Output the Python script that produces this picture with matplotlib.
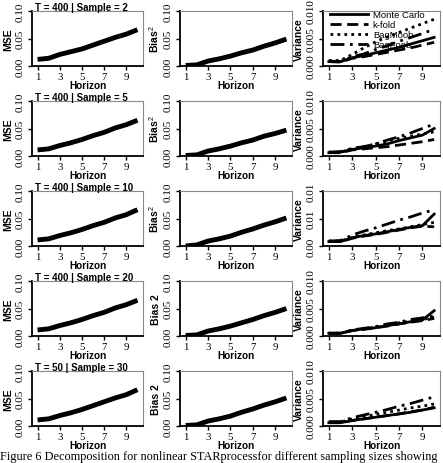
import matplotlib.pyplot as plt
import matplotlib as mpl
from matplotlib.ticker import FormatStrFormatter

# horizon values and panel titles
HORIZON = [1, 2, 3, 4, 5, 6, 7, 8, 9, 10]
TITLES = ["T = 400 | Sample = 2", "T = 400 | Sample = 5", "T = 400 | Sample = 10",
          "T = 400 | Sample = 20", "T = 50 | Sample = 30"]
BIAS_LABELS = ["Bias$^2$", "Bias$^2$", "Bias$^2$", "Bias 2", "Bias 2"]
METHODS = ["Monte Carlo", "k-fold", "BagMoob", "BagFoob"]

# MSE per row
MSE_S2 = [0.012, 0.014, 0.021, 0.026, 0.031, 0.038, 0.045, 0.052, 0.058, 0.066]
MSE_S5 = [0.011, 0.013, 0.019, 0.024, 0.030, 0.037, 0.043, 0.051, 0.057, 0.065]
MSE_S10 = [0.011, 0.013, 0.019, 0.024, 0.030, 0.037, 0.043, 0.051, 0.057, 0.066]
MSE_S20 = [0.011, 0.013, 0.019, 0.024, 0.030, 0.037, 0.043, 0.051, 0.057, 0.065]
MSE_S30 = [0.011, 0.013, 0.019, 0.024, 0.030, 0.037, 0.044, 0.051, 0.057, 0.066]

# squared bias per row
BIAS_S2 = [0.001, 0.002, 0.009, 0.013, 0.018, 0.024, 0.029, 0.036, 0.042, 0.049]
BIAS_S5 = [0.001, 0.002, 0.009, 0.013, 0.018, 0.024, 0.029, 0.036, 0.041, 0.047]
BIAS_S10 = [0.000, 0.002, 0.009, 0.013, 0.018, 0.025, 0.031, 0.038, 0.044, 0.051]
BIAS_S20 = [0.001, 0.002, 0.009, 0.013, 0.018, 0.024, 0.030, 0.037, 0.043, 0.050]
BIAS_S30 = [0.001, 0.002, 0.009, 0.013, 0.018, 0.025, 0.031, 0.038, 0.044, 0.051]

# variance per row: Monte Carlo, k-fold, BagMoob, BagFoob
VAR_MC_S2 = [0.0008, 0.0008, 0.0015, 0.0019, 0.0024, 0.0029, 0.0034, 0.0040, 0.0046, 0.0052]
VAR_KF_S2 = [0.0008, 0.0007, 0.0014, 0.0017, 0.0021, 0.0025, 0.0029, 0.0033, 0.0038, 0.0043]
VAR_MO_S2 = [0.0010, 0.0010, 0.0021, 0.0033, 0.0044, 0.0053, 0.0061, 0.0069, 0.0077, 0.0085]
VAR_FO_S2 = [0.0009, 0.0008, 0.0017, 0.0022, 0.0030, 0.0037, 0.0045, 0.0052, 0.0059, 0.0067]

VAR_MC_S5 = [0.0006, 0.0007, 0.0012, 0.0015, 0.0018, 0.0022, 0.0028, 0.0033, 0.0038, 0.0050]
VAR_KF_S5 = [0.0006, 0.0006, 0.0011, 0.0013, 0.0015, 0.0017, 0.0020, 0.0023, 0.0026, 0.0030]
VAR_MO_S5 = [0.0007, 0.0007, 0.0013, 0.0017, 0.0022, 0.0027, 0.0032, 0.0036, 0.0040, 0.0044]
VAR_FO_S5 = [0.0007, 0.0008, 0.0014, 0.0017, 0.0022, 0.0029, 0.0035, 0.0042, 0.0050, 0.0058]

VAR_MC_S10 = [0.0008, 0.0008, 0.0015, 0.0019, 0.0022, 0.0026, 0.0030, 0.0034, 0.0037, 0.0058]
VAR_KF_S10 = [0.0008, 0.0008, 0.0014, 0.0018, 0.0021, 0.0025, 0.0029, 0.0033, 0.0036, 0.0035]
VAR_MO_S10 = [0.0009, 0.0009, 0.0016, 0.0020, 0.0024, 0.0028, 0.0031, 0.0035, 0.0039, 0.0043]
VAR_FO_S10 = [0.0009, 0.0010, 0.0020, 0.0027, 0.0033, 0.0040, 0.0047, 0.0053, 0.0060, 0.0066]

VAR_MC_S20 = [0.0005, 0.0005, 0.0010, 0.0013, 0.0015, 0.0019, 0.0022, 0.0026, 0.0029, 0.0046]
VAR_KF_S20 = [0.0005, 0.0005, 0.0010, 0.0012, 0.0015, 0.0018, 0.0022, 0.0025, 0.0028, 0.0032]
VAR_MO_S20 = [0.0005, 0.0005, 0.0010, 0.0013, 0.0016, 0.0020, 0.0024, 0.0027, 0.0030, 0.0034]
VAR_FO_S20 = [0.0005, 0.0005, 0.0011, 0.0014, 0.0017, 0.0022, 0.0025, 0.0030, 0.0033, 0.0036]

VAR_MC_S30 = [0.0006, 0.0006, 0.0010, 0.0013, 0.0016, 0.0019, 0.0022, 0.0025, 0.0029, 0.0033]
VAR_KF_S30 = [0.0006, 0.0006, 0.0010, 0.0013, 0.0016, 0.0019, 0.0022, 0.0026, 0.0029, 0.0034]
VAR_MO_S30 = [0.0007, 0.0007, 0.0013, 0.0017, 0.0021, 0.0025, 0.0029, 0.0033, 0.0036, 0.0040]
VAR_FO_S30 = [0.0008, 0.0008, 0.0015, 0.0020, 0.0025, 0.0030, 0.0036, 0.0041, 0.0047, 0.0053]

CAPTION = "Figure 6 Decomposition for nonlinear STARprocessfor different sampling sizes showing"

MSE_ROWS = [MSE_S2, MSE_S5, MSE_S10, MSE_S20, MSE_S30]
BIAS_ROWS = [BIAS_S2, BIAS_S5, BIAS_S10, BIAS_S20, BIAS_S30]
VAR_ROWS = [
    [VAR_MC_S2, VAR_KF_S2, VAR_MO_S2, VAR_FO_S2],
    [VAR_MC_S5, VAR_KF_S5, VAR_MO_S5, VAR_FO_S5],
    [VAR_MC_S10, VAR_KF_S10, VAR_MO_S10, VAR_FO_S10],
    [VAR_MC_S20, VAR_KF_S20, VAR_MO_S20, VAR_FO_S20],
    [VAR_MC_S30, VAR_KF_S30, VAR_MO_S30, VAR_FO_S30],
]

W, H = 443, 464
SANS = ["Liberation Sans Narrow", "Liberation Sans", "DejaVu Sans"]
SERIF = ["Liberation Serif", "DejaVu Serif"]

mpl.rcParams.update({
    "font.family": SERIF,
    "mathtext.fontset": "custom",
    "mathtext.rm": "Liberation Sans",
    "mathtext.bf": "Liberation Sans:bold",
})

fig = plt.figure(figsize=(W / 100, H / 100), dpi=100)

COLS = [(32, 111), (180, 112), (323, 117)]  # left px, width px
ROW_TOPS = [12, 102, 192, 282, 372]
BOX_H = 55

VAR_STYLES = [
    dict(linestyle="-", linewidth=2.0),
    dict(linestyle=(0, (4, 2)), linewidth=2.0),
    dict(linestyle=(0, (1, 1.5)), linewidth=2.0),
    dict(linestyle=(0, (5, 2, 1, 2)), linewidth=2.0),
]


def style_axis(ax, ylim, yticks, fmt, ylabel):
    ax.set_xlim(0.5, 10.5)
    ax.set_ylim(*ylim)
    ax.set_xticks([1, 3, 5, 7, 9])
    ax.set_yticks(yticks)
    ax.yaxis.set_major_formatter(FormatStrFormatter(fmt))
    for lbl in ax.get_yticklabels():
        lbl.set_rotation(90)
        lbl.set_va("center")
    ax.tick_params(axis="y", labelsize=8, length=3, width=1, pad=2)
    ax.tick_params(axis="x", labelsize=7.8, length=3, width=1, pad=1)
    for side in ["top", "right"]:
        ax.spines[side].set_color("#888888")
        ax.spines[side].set_linewidth(0.8)
    for side in ["left", "bottom"]:
        ax.spines[side].set_linewidth(1.3)
    ax.set_xlabel("Horizon", family=SANS, fontweight="bold", fontsize=7.2, labelpad=-0.5)
    ax.set_ylabel(ylabel, family=SANS, fontweight="bold", fontsize=7.5, labelpad=2)


for r in range(5):
    top = ROW_TOPS[r]
    axes = []
    for (left, width) in COLS:
        rect = [left / W, 1 - (top + BOX_H) / H, width / W, BOX_H / H]
        axes.append(fig.add_axes(rect))
    ax_mse, ax_bias, ax_var = axes

    ax_mse.plot(HORIZON, MSE_ROWS[r], color="black", linewidth=3.5, solid_capstyle="butt")
    style_axis(ax_mse, (0, 0.10), [0, 0.05, 0.10], "%.2f", "MSE")
    ax_mse.text(0.03, 1.02, TITLES[r], transform=ax_mse.transAxes, family=SANS,
                fontweight="bold", fontsize=7.0, ha="left", va="baseline")

    ax_bias.plot(HORIZON, BIAS_ROWS[r], color="black", linewidth=3.5, solid_capstyle="butt")
    style_axis(ax_bias, (0, 0.10), [0, 0.05, 0.10], "%.2f", BIAS_LABELS[r])

    for series, name, st in zip(VAR_ROWS[r], METHODS, VAR_STYLES):
        ax_var.plot(HORIZON, series, color="black", label=name, **st)
    var_fmt = "%.2f" if r == 2 else "%.3f"
    style_axis(ax_var, (0, 0.010), [0, 0.005, 0.010], var_fmt, "Variance")

    if r == 0:
        ax_var.legend(loc="upper left", bbox_to_anchor=(0.03, 1.08), frameon=False,
                      handlelength=4.0, handletextpad=0.5, labelspacing=0.1,
                      borderaxespad=0.0, prop={"family": SANS, "size": 6.8})

fig.text(0.0, 1 / H, CAPTION, family=SERIF, fontsize=8.8, ha="left", va="bottom")

fig.savefig("out.png", dpi=100)
